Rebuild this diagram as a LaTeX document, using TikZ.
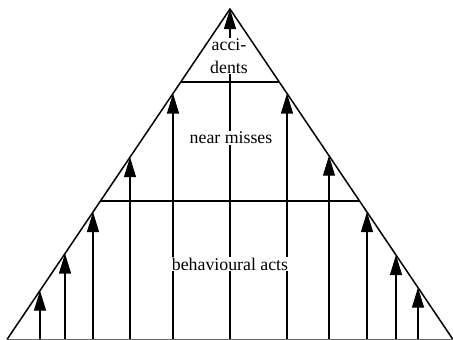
\documentclass[tikz,border=0pt]{standalone}
\usepackage{fontspec}
\setmainfont{Liberation Serif}
\usetikzlibrary{arrows.meta,calc}
\begin{document}
\begin{tikzpicture}[x=1pt,y=-1pt,
  side/.style={line width=1.5pt,line join=miter},
  level/.style={line width=2pt},
  flow/.style={line width=1.1pt,-{Triangle[length=20pt,width=12pt]}},
  lbl/.style={fill=white,inner sep=1pt,align=center,font=\fontsize{17.8}{23}\selectfont}]
\useasboundingbox (0,0) rectangle (453,340);
\coordinate (A) at (230,9);
\coordinate (L) at (7,339.5);
\coordinate (R) at (453,339.5);
% levels
\coordinate (u1) at ($(A)!0.2209!(L)$);
\coordinate (u2) at ($(A)!0.2209!(R)$);
\coordinate (m1) at ($(A)!0.5809!(L)$);
\coordinate (m2) at ($(A)!0.5809!(R)$);
% side arrows
\foreach \n/\x/\y in {l1/40/290.6, l2/65/253.5, l3/93/212, l4/130/157.2, l5/173/93.5,
                      r1/287/93.5, r2/329/155.7, r3/367/212, r4/396/255, r5/418/287.6}{
  \coordinate (b\n) at (\x,340);
  \coordinate (t\n) at (\x,\y);
  \draw[flow] (b\n) -- (t\n);
}
% centre arrow
\coordinate (bc) at (230,340);
\draw[flow] (bc) -- (A);
% labels
\node[lbl] (acc) at (229,56) {acci-\\dents};
\node[lbl] (near) at (231,138) {near misses};
\node[lbl] (beh) at (230,264) {behavioural acts};
% levels and outline
\draw[level] (u1) -- (u2);
\draw[level] (m1) -- (m2);
\draw[side] (L) -- (A) -- (R);
\draw[line width=0.6pt,black!60] (L) -- (R);
\end{tikzpicture}
\end{document}
